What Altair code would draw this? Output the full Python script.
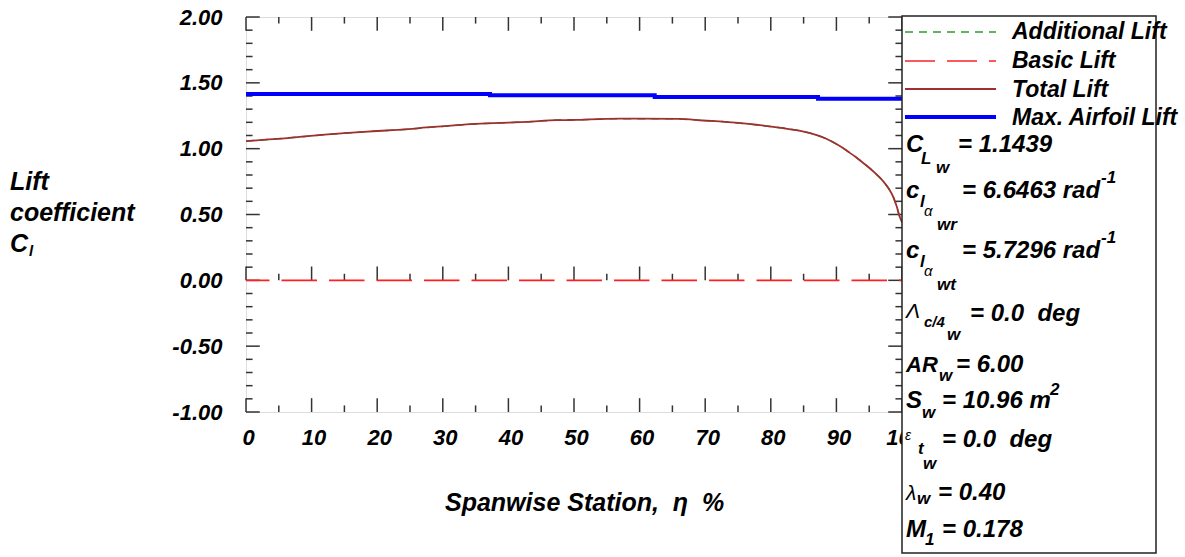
import altair as alt
import pandas as pd

# ---------------- data ----------------
eta_total = [0, 3, 6.3, 9, 12, 15, 17.9, 21.4, 24.7, 27.5, 30.3, 33.6, 37.7, 42.8, 47.4, 50,
             55, 60, 66, 69.7, 73, 77, 79.5, 82, 84.5, 86, 87, 88, 89, 90, 91, 92, 93, 94, 95,
             96, 97, 98, 98.7, 99.2, 99.6, 100]
cl_total = [1.057, 1.068, 1.080, 1.093, 1.106, 1.118, 1.128, 1.138, 1.148, 1.161, 1.171,
            1.184, 1.194, 1.204, 1.217, 1.218, 1.227, 1.228, 1.226, 1.214, 1.204, 1.186,
            1.171, 1.155, 1.135, 1.118, 1.103, 1.085, 1.062, 1.035, 1.005, 0.970, 0.935,
            0.895, 0.855, 0.810, 0.760, 0.695, 0.630, 0.560, 0.490, 0.440]
# additional lift equals total lift here (basic lift is zero everywhere)
eta_additional = eta_total
cl_additional = cl_total
eta_basic = [0, 100]
cl_basic = [0.0, 0.0]
eta_max = [0, 37.2, 62.3, 87.2, 100]
cl_max = [1.415, 1.405, 1.393, 1.380, 1.380]

y_major = [-1.0, -0.5, 0.0, 0.5, 1.0, 1.5, 2.0]
y_minor = [-0.9, -0.8, -0.7, -0.6, -0.4, -0.3, -0.2, -0.1, 0.1, 0.2, 0.3, 0.4,
           0.6, 0.7, 0.8, 0.9, 1.1, 1.2, 1.3, 1.4, 1.6, 1.7, 1.8, 1.9]
x_major = [0, 10, 20, 30, 40, 50, 60, 70, 80, 90, 100]
x_minor = [5, 15, 25, 35, 45, 55, 65, 75, 85, 95]

FONT = "Liberation Sans"
W, H = 656, 395
OX, OY = 246, 17

xs = alt.Scale(domain=[0, 100], nice=False, zero=False)
ys = alt.Scale(domain=[-1, 2], nice=False, zero=False)
x_axis = alt.Axis(values=x_major, format="d", grid=False, domain=False, ticks=False, tickSize=0,
                  labelPadding=15, labelFont=FONT, labelFontSize=22, labelFontWeight="bold",
                  labelFontStyle="italic", labelColor="black", title=None, labelOffset=2,
                  labelFlush=False, labelOverlap=False)
y_axis = alt.Axis(values=y_major, grid=False, domain=False, ticks=False, tickSize=0,
                  labelExpr="replace(format(datum.value, '.2f'), '\u2212', '-')",
                  labelPadding=24, labelFont=FONT, labelFontSize=22, labelFontWeight="bold",
                  labelFontStyle="italic", labelColor="black", title=None, labelFlush=False,
                  labelOverlap=False)


def X(field):
    return alt.X(field, type="quantitative", scale=xs, axis=x_axis)


def Y(field):
    return alt.Y(field, type="quantitative", scale=ys, axis=y_axis)


def XD(v):
    return alt.XDatum(v, scale=xs, axis=x_axis)


def X2D(v):
    return alt.X2Datum(v)


def YD(v):
    return alt.YDatum(v, scale=ys, axis=y_axis)


def Y2D(v):
    return alt.Y2Datum(v)


one = pd.DataFrame({"k": [0]})

layers = []

# ---------- tick marks (inward) ----------
TICK = dict(color="#333333", strokeWidth=1.5)
ym = pd.DataFrame({"v": y_major})
yn = pd.DataFrame({"v": y_minor})
xm = pd.DataFrame({"v": x_major})
xn = pd.DataFrame({"v": x_minor})
for df, ln in ((ym, 2.1), (yn, 1.0)):
    layers.append(alt.Chart(df).mark_rule(**TICK).encode(y=Y("v"), x=XD(0), x2=X2D(ln)))
    layers.append(alt.Chart(df).mark_rule(**TICK).encode(y=Y("v"), x=XD(100), x2=X2D(100 - ln)))
for df, ln in ((xm, 0.105), (xn, 0.05)):
    layers.append(alt.Chart(df).mark_rule(**TICK).encode(x=X("v"), y=YD(-1), y2=Y2D(-1 + ln)))
    layers.append(alt.Chart(df).mark_rule(**TICK).encode(x=X("v"), y=YD(2), y2=Y2D(2 - ln)))
    layers.append(alt.Chart(df).mark_rule(**TICK).encode(x=X("v"), y=YD(0), y2=Y2D(ln)))

# ---------- series ----------
GREEN, RED, BROWN, BLUE = "#2e9a2e", "#ff2020", "#a03030", "#0000ff"
df_add = pd.DataFrame({"eta": eta_additional, "cl": cl_additional})
df_bas = pd.DataFrame({"eta": eta_basic, "cl": cl_basic})
df_tot = pd.DataFrame({"eta": eta_total, "cl": cl_total})
df_max = pd.DataFrame({"eta": eta_max, "cl": cl_max})

layers.append(alt.Chart(df_add).mark_line(color=GREEN, strokeWidth=1.5, strokeDash=[8, 6])
              .encode(x=X("eta"), y=Y("cl")))
layers.append(alt.Chart(df_bas).mark_line(color=RED, strokeWidth=1.8, strokeDash=[35.5, 12],
                                          strokeDashOffset=12)
              .encode(x=X("eta"), y=Y("cl")))
layers.append(alt.Chart(df_tot).mark_line(color=BROWN, strokeWidth=1.8, interpolate="monotone")
              .encode(x=X("eta"), y=Y("cl")))
layers.append(alt.Chart(df_max).mark_line(color=BLUE, strokeWidth=4, interpolate="step-after")
              .encode(x=X("eta"), y=Y("cl")))

# ---------- legend / annotation box ----------
layers.append(alt.Chart(one).mark_rect(fill="white", stroke="#222222", strokeWidth=1.5)
              .encode(x=alt.value(902 - OX), x2=alt.value(1156 - OX),
                      y=alt.value(16 - OY), y2=alt.value(553 - OY)))


def sample(color, width, dash, ay):
    kw = dict(color=color, strokeWidth=width)
    if dash:
        kw["strokeDash"] = dash
    return (alt.Chart(one).mark_rule(**kw)
            .encode(x=alt.value(905 - OX), x2=alt.value(996 - OX), y=alt.value(ay - OY)))


def txt(text, ax, ay, size, weight="bold", style="italic"):
    return (alt.Chart(one)
            .mark_text(text=text, font=FONT, fontSize=size, fontWeight=weight, fontStyle=style,
                       color="black", align="left", baseline="alphabetic")
            .encode(x=alt.value(ax - OX), y=alt.value(ay - OY)))


layers += [
    sample(GREEN, 1.5, [8, 6], 32),
    sample(RED, 1.5, [30, 12], 61),
    sample(BROWN, 1.8, None, 89),
    sample(BLUE, 4, None, 117),
]

legend_texts = [
    ("Additional Lift", 1012, 39),
    ("Basic Lift", 1012, 68),
    ("Total Lift", 1012, 97),
    ("Max. Airfoil Lift", 1012, 125),
]
for t, ax, ay in legend_texts:
    layers.append(txt(t, ax, ay, 23))

BIG, SUB = 24, 17
notes = [
    # C_L_w
    ("C", 906, 152, BIG, "bold"), ("L", 921, 164, SUB, "bold"), ("w", 936, 173, SUB, "bold"),
    ("= 1.1439", 958, 152, BIG, "bold"),
    # c_l_alpha_wr
    ("c", 906, 198, BIG, "bold"), ("l", 920, 207, SUB, "bold"), ("α", 924, 216, 15, "normal"),
    ("wr", 937, 230, SUB, "bold"), ("= 6.6463 rad", 962, 198, BIG, "bold"),
    ("-1", 1101, 183, SUB, "bold"),
    # c_l_alpha_wt
    ("c", 906, 258, BIG, "bold"), ("l", 920, 267, SUB, "bold"), ("α", 924, 276, 15, "normal"),
    ("wt", 937, 290, SUB, "bold"), ("= 5.7296 rad", 962, 258, BIG, "bold"),
    ("-1", 1101, 243, SUB, "bold"),
    # Lambda c/4 w
    ("Λ", 906, 318, 21, "normal"), ("c/4", 924, 327, 15, "bold"), ("w", 947, 340, SUB, "bold"),
    ("= 0.0\u00a0 deg", 970, 321, BIG, "bold"),
    # AR_w
    ("AR", 906, 372, 22, "bold"), ("w", 939, 381, SUB, "bold"), ("= 6.00", 956, 372, BIG, "bold"),
    # S_w
    ("S", 906, 408, BIG, "bold"), ("w", 922, 418, SUB, "bold"),
    ("= 10.96 m", 942, 408, BIG, "bold"), ("2", 1050, 395, SUB, "bold"),
    # epsilon t w
    ("ε", 905, 440, 14, "normal"), ("t", 918, 454, SUB, "bold"), ("w", 923, 469, SUB, "bold"),
    ("= 0.0\u00a0 deg", 942, 447, BIG, "bold"),
    # lambda_w
    ("λ", 906, 500, 21, "normal"), ("w", 917, 504, SUB, "bold"), ("= 0.40", 938, 500, BIG, "bold"),
    # M_1
    ("M", 906, 537, BIG, "bold"), ("1", 925, 545, SUB, "bold"), ("= 0.178", 942, 537, BIG, "bold"),
]
for t, ax, ay, sz, wt in notes:
    layers.append(txt(t, ax, ay, sz, wt))

# ---------- axis titles ----------
layers += [
    txt("Lift", 10, 190, 25),
    txt("coefficient", 10, 221, 25),
    txt("C", 10, 252, 25),
    txt("l", 29, 256, 15),
    txt("Spanwise Station,\u00a0 η\u00a0 %", 445, 511, 25),
]

chart = (
    alt.layer(*layers)
    .properties(width=W, height=H,
                padding={"left": OX, "top": OY, "right": 1185 - OX - W, "bottom": 557 - OY - H},
                autosize=alt.AutoSizeParams(type="none"))
    .configure_view(stroke="#333333", strokeWidth=1.5)
    .configure(background="white")
)

chart.save("out.html", embed_options={"renderer": "svg", "actions": False})
